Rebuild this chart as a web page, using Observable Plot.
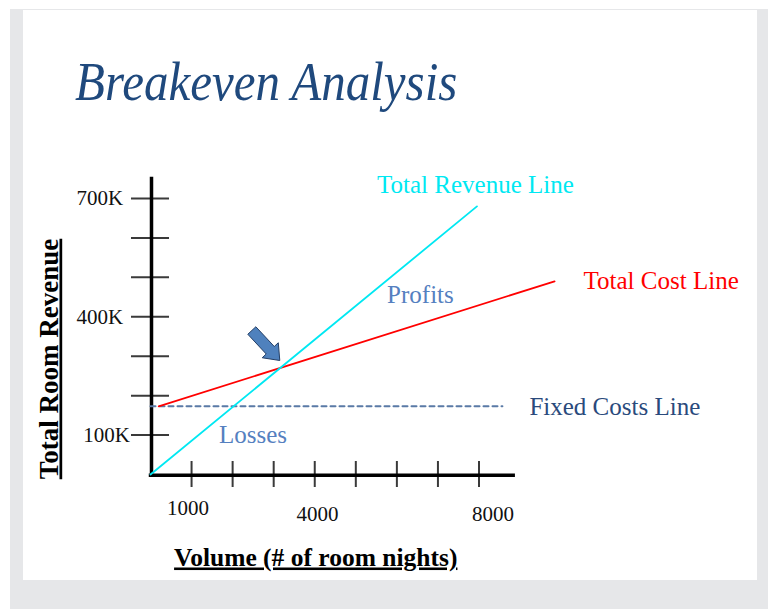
<!DOCTYPE html>
<html><head><meta charset="utf-8">
<script src="https://cdn.jsdelivr.net/npm/d3@7"></script>
<script src="https://cdn.jsdelivr.net/npm/@observablehq/plot@0.6"></script>
<style>
html,body{margin:0;padding:0;width:768px;height:609px;overflow:hidden;background:#fff;}
#frame{position:absolute;left:10px;top:9px;width:758px;height:600px;background:#e6e7e9;}
#panel{position:absolute;left:23px;top:10px;width:734px;height:570px;background:#fff;}
#chart{position:absolute;left:0;top:0;}
#title{position:absolute;left:75px;top:60px;font:italic 49px "Liberation Serif",serif;color:#1f497d;line-height:48px;transform:scaleY(1.12);transform-origin:0 40px;white-space:nowrap;}
</style></head><body>
<div id="frame"></div><div id="panel"></div>
<div id="chart"></div>
<div id="title">Breakeven Analysis</div>
<script>
// ---- data ----
const volumeTicks = [1000, 2000, 3000, 4000, 5000, 6000, 7000, 8000];
const volumeLabelValues = [1000, 4000, 8000];
const volumeLabelTexts = ["1000", "4000", "8000"];
const revenueTicks = [100000, 200000, 300000, 400000, 500000, 600000, 700000];
const revenueLabelValues = [100000, 400000, 700000];
const revenueLabelTexts = ["100K", "400K", "700K"];
const seriesNames = ["Total Revenue Line", "Total Cost Line", "Fixed Costs Line"];
const revenueVolumes = [0, 7950];
const revenueValues = [0, 680000];
const costVolumes = [200, 9840];
const costValues = [173000, 490000];
const fixedVolumes = [0, 8570];
const fixedValues = [173000, 173000];
const regionNames = ["Profits", "Losses"];
const xTitle = "Volume (# of room nights)";
const yTitle = "Total Room Revenue";

// ---- derived tables ----
const toRows = (vs, ys) => vs.map((v, i) => ({volume: v, value: ys[i]}));
const revenueData = toRows(revenueVolumes, revenueValues);
const costData = toRows(costVolumes, costValues);
const fixedData = toRows(fixedVolumes, fixedValues);
const rSlope = (revenueValues[1] - revenueValues[0]) / (revenueVolumes[1] - revenueVolumes[0]);
const cSlope = (costValues[1] - costValues[0]) / (costVolumes[1] - costVolumes[0]);
const beVolume = (costValues[0] - cSlope * costVolumes[0] - revenueValues[0] + rSlope * revenueVolumes[0]) / (rSlope - cSlope);
const beValue = revenueValues[0] + rSlope * (beVolume - revenueVolumes[0]);
const breakeven = [{volume: beVolume, value: beValue}];

// block arrow symbol, tip at origin, pointing down-right
const arrowSymbol = {draw(ctx) {
  const pts = [[0,0],[-14,-11],[-14,-5.5],[-41,-5.5],[-41,5.5],[-14,5.5],[-14,11]];
  const a = 47 * Math.PI / 180, c = Math.cos(a), s = Math.sin(a);
  pts.forEach(([x, y], i) => { const X = x*c - y*s, Y = x*s + y*c; i ? ctx.lineTo(X, Y) : ctx.moveTo(X, Y); });
  ctx.closePath();
}};

const FONT = "Liberation Serif";
const CYAN = "#00e8f2", RED = "#ff0000", DASH = "#5a7aa6", FIXTXT = "#2a4a7c", REGION = "#5580c0";

const xLabel = (i, dx, dy) => Plot.text([volumeLabelTexts[i]], {
  x: volumeLabelValues[i], y: 0, text: d => d, dx, dy,
  fontFamily: FONT, fontSize: 21, fill: "#111", textAnchor: "middle", lineAnchor: "middle"
});
const yLabel = (i, dx) => Plot.text([revenueLabelTexts[i]], {
  x: 0, y: revenueLabelValues[i], text: d => d, dx,
  fontFamily: FONT, fontSize: 21, fill: "#111", textAnchor: "end", lineAnchor: "middle"
});

const chart = Plot.plot({
  width: 768, height: 609,
  marginLeft: 150, marginRight: 289.5, marginTop: 198, marginBottom: 135,
  x: {domain: [0, 8000], axis: null},
  y: {domain: [0, 700000], axis: null},
  style: {background: "transparent", fontFamily: FONT},
  marks: [
    // tick marks crossing the axes
    Plot.ruleY(revenueTicks, {y: d => d, x1: -463, x2: 463, stroke: "#3a3a3a", strokeWidth: 2}),
    Plot.ruleX(volumeTicks, {x: d => d, y1: -33000, y2: 33000, stroke: "#3a3a3a", strokeWidth: 2}),
    // axis lines
    Plot.ruleX([0], {x: d => d, y1: -5000, y2: 754000, stroke: "#000", strokeWidth: 3.5, dx: 1}),
    Plot.ruleY([0], {y: d => d, x1: -30, x2: 8887, stroke: "#000", strokeWidth: 3.5, dy: 0.7}),
    // tick labels
    yLabel(0, -20.7), yLabel(1, -27.3), yLabel(2, -27.3),
    xLabel(0, -3.6, 34), xLabel(1, 2.7, 40), xLabel(2, 14, 40),
    // series
    Plot.line(fixedData, {x: "volume", y: "value", stroke: DASH, strokeWidth: 2, strokeDasharray: "5,4"}),
    Plot.line(costData, {x: "volume", y: "value", stroke: RED, strokeWidth: 1.8}),
    Plot.line(revenueData, {x: "volume", y: "value", stroke: CYAN, strokeWidth: 1.8}),
    // series labels anchored at line ends
    Plot.text([seriesNames[0]], {x: revenueVolumes[1], y: revenueValues[1], text: d => d, dx: -1.5, dy: -21,
      fontFamily: FONT, fontSize: 25, fill: CYAN, textAnchor: "middle", lineAnchor: "middle"}),
    Plot.text([seriesNames[1]], {x: costVolumes[1], y: costValues[1], text: d => d, dx: 29, dy: 0,
      fontFamily: FONT, fontSize: 25, fill: RED, textAnchor: "start", lineAnchor: "middle"}),
    Plot.text([seriesNames[2]], {x: fixedVolumes[1], y: fixedValues[1], text: d => d, dx: 27, dy: 0.5,
      fontFamily: FONT, fontSize: 25, fill: FIXTXT, textAnchor: "start", lineAnchor: "middle"}),
    // region labels
    Plot.text([regionNames[0]], {x: 6574, y: 454000, text: d => d,
      fontFamily: FONT, fontSize: 25, fill: REGION, textAnchor: "middle", lineAnchor: "middle"}),
    Plot.text([regionNames[1]], {x: 2496, y: 99000, text: d => d,
      fontFamily: FONT, fontSize: 25, fill: REGION, textAnchor: "middle", lineAnchor: "middle"}),
    // breakeven arrow
    Plot.dot(breakeven, {x: "volume", y: "value", symbol: arrowSymbol, dx: -0.5, dy: -7.4,
      fill: "#4f81bd", stroke: "#243f66", strokeWidth: 1}),
    // axis titles
    Plot.text([yTitle], {frameAnchor: "left", text: d => d, rotate: -90, dx: -93, dy: 22.5,
      fontFamily: FONT, fontSize: 27, fontWeight: "bold", fill: "#000", textAnchor: "middle", lineAnchor: "bottom"}),
    Plot.text([xTitle], {frameAnchor: "bottom", text: d => d, dx: 1, dy: 91,
      fontFamily: FONT, fontSize: 25.5, fontWeight: "bold", fill: "#000", textAnchor: "middle", lineAnchor: "bottom"})
  ]
});
chart.querySelectorAll("text").forEach(t => {
  if (t.textContent === xTitle || t.textContent === yTitle) {
    t.setAttribute("text-decoration", "underline");
    t.style.textDecoration = "underline";
  }
});
document.getElementById("chart").appendChild(chart);
</script></body></html>
